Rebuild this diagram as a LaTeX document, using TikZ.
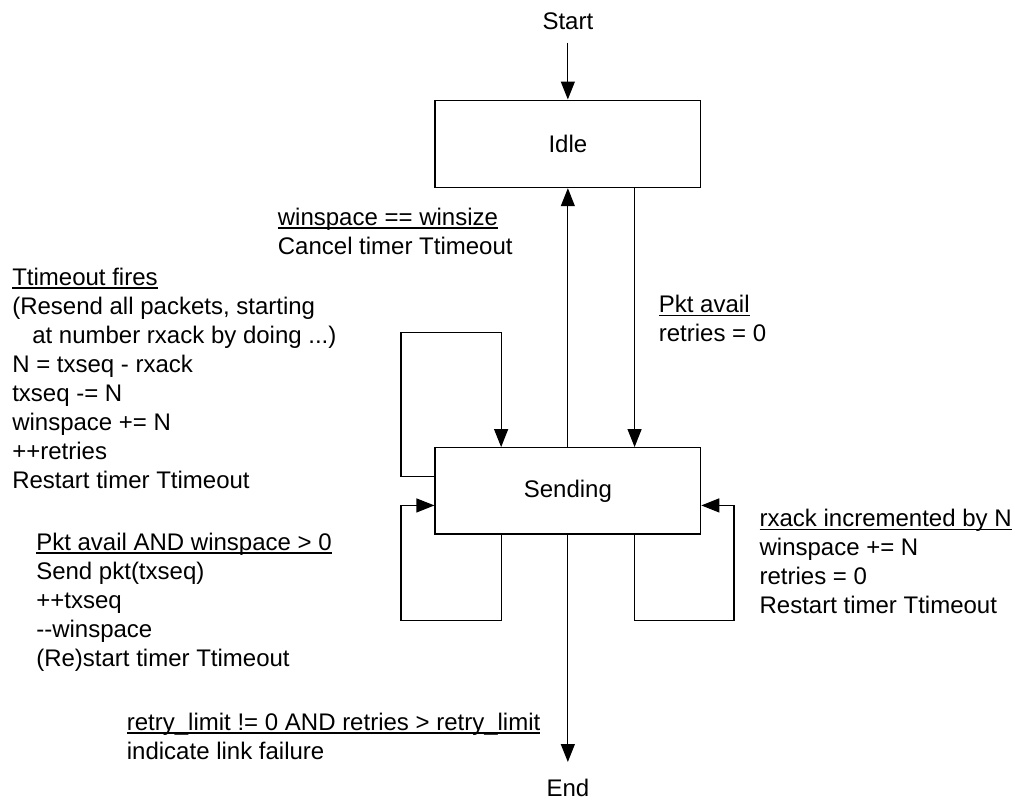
\documentclass[tikz,border=0pt]{standalone}
\usepackage{fontspec}
\setmainfont{Liberation Sans}
\usetikzlibrary{arrows.meta,calc}
% underline drawn at a fixed depth below the baseline, through descenders
\newcommand\ulx[1]{\leavevmode\setbox0\hbox{#1}\rlap{\vrule width \wd0 height -2pt depth 3.5pt}\box0}
% multi-line label whose baseline is that of its first line
\newcommand\lines[1]{\begin{tabular}[t]{@{}l@{}}#1\end{tabular}}
\begin{document}
\begin{tikzpicture}[x=1pt,y=-1pt,line width=1.2pt,
  txt/.style={font=\fontsize{24}{29}\selectfont},
  state/.style={txt,draw,rectangle,minimum width=265.7pt,minimum height=87.5pt,inner sep=0pt},
  lbl/.style={txt,anchor=base west,inner sep=0pt},
  tip/.style={-{Triangle[width=14pt,length=18pt]}}]
\useasboundingbox (0,0) rectangle (1015,803);

% states
\node[state] (idle) at (567.85,143.85) {Idle};
\node[state,minimum height=86.3pt] (send) at (567.85,490.85) {Sending};
\node[lbl,anchor=base] (start) at (567.85,29.3) {Start};
\node[lbl,anchor=base] (end) at (567.85,796.5) {End};

% corner points of the self-loops
\coordinate (tlc) at (401,332.5);
\coordinate (blc) at (401,620.7);
\coordinate (brc) at (734,620.7);

% transitions
\draw[tip] ([yshift=-13.4pt]start.base) -- (idle.north);
\draw[tip] (send.north) -- (idle.south);
\draw[tip] ($(idle.south)!0.5!(idle.south east)$) -- ($(send.north)!0.5!(send.north east)$);
\draw[tip] ($(send.north west)!1/3!(send.south west)$) -| (tlc) -| ($(send.north west)!0.5!(send.north)$);
\draw[tip] ($(send.south west)!0.5!(send.south)$) |- (blc) |- ($(send.north west)!2/3!(send.south west)$);
\draw[tip] ($(send.south)!0.5!(send.south east)$) |- (brc) |- ($(send.north east)!2/3!(send.south east)$);
\draw[tip] (send.south) -- ([yshift=16.5pt]end.north);

% transition labels
\node[lbl] (lcancel) at (277.3,225) {\lines{\ulx{winspace == winsize}\\Cancel timer Ttimeout}};
\node[lbl] (lpkt) at (658.3,312.5) {\lines{\ulx{Pkt avail}\\retries = 0}};
\node[lbl] (ltimeout) at (11.7,285) {\lines{\ulx{Ttimeout fires}\\
  (Resend all packets, starting\\
  \hspace*{20pt}at number rxack by doing ...)\\
  N = txseq - rxack\\
  txseq -= N\\
  winspace += N\\
  ++retries\\
  Restart timer Ttimeout}};
\node[lbl] (lsend) at (35.7,550) {\lines{\ulx{Pkt avail AND winspace > 0}\\
  Send pkt(txseq)\\
  ++txseq\\
  \mbox{-}-winspace\\
  (Re)start timer Ttimeout}};
\node[lbl] (lack) at (759,526.7) {\lines{\ulx{rxack incremented by N}\\
  winspace += N\\
  retries = 0\\
  Restart timer Ttimeout}};
\node[lbl] (lfail) at (126.3,730) {\lines{\ulx{retry\_limit != 0 AND retries > retry\_limit}\\
  indicate link failure}};
\end{tikzpicture}
\end{document}
